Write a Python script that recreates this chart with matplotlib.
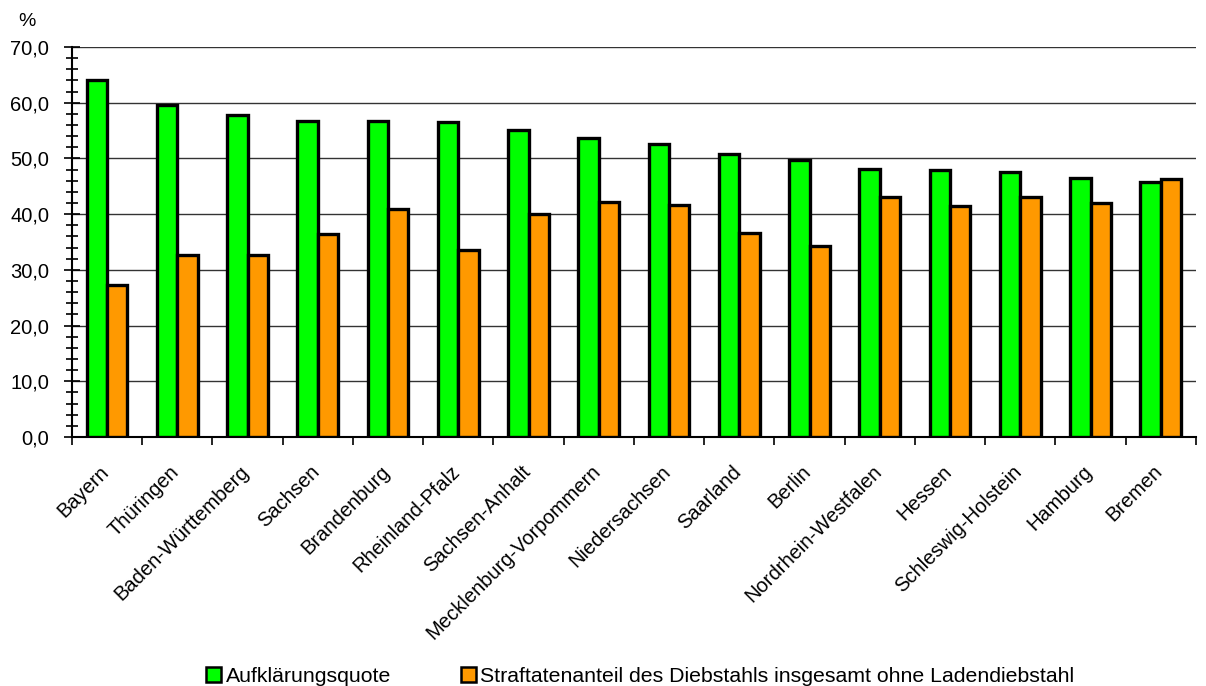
import numpy as np
import matplotlib.pyplot as plt
import matplotlib.transforms as mtransforms
from matplotlib.ticker import MultipleLocator, FuncFormatter
from matplotlib.patches import Patch

laender = ['Bayern', 'Thüringen', 'Baden-Württemberg', 'Sachsen', 'Brandenburg',
           'Rheinland-Pfalz', 'Sachsen-Anhalt', 'Mecklenburg-Vorpommern',
           'Niedersachsen', 'Saarland', 'Berlin', 'Nordrhein-Westfalen',
           'Hessen', 'Schleswig-Holstein', 'Hamburg', 'Bremen']
aufklaerung = [64.0, 59.5, 57.8, 56.8, 56.8, 56.5, 55.1, 53.7,
               52.6, 50.8, 49.7, 48.1, 47.9, 47.5, 46.4, 45.8]
diebstahl = [27.3, 32.6, 32.6, 36.4, 41.0, 33.5, 40.0, 42.2,
             41.6, 36.7, 34.3, 43.1, 41.5, 43.0, 42.0, 46.3]

plt.rcParams['font.family'] = ['Liberation Sans', 'DejaVu Sans']

fig = plt.figure(figsize=(12.06, 6.86), dpi=100)
ax = fig.add_axes([0.0597, 0.363, 0.932, 0.5685])

x = np.arange(len(laender))
w = 0.29
ax.bar(x - w/2, aufklaerung, w, color='#00ff00', edgecolor='black', linewidth=2.4, zorder=3)
ax.bar(x + w/2, diebstahl, w, color='#ff9900', edgecolor='black', linewidth=2.4, zorder=3)

ax.set_xlim(-0.5, len(laender) - 0.5)
ax.set_ylim(0, 70)
ax.yaxis.set_major_locator(MultipleLocator(10))
ax.yaxis.set_minor_locator(MultipleLocator(2))
ax.yaxis.set_major_formatter(FuncFormatter(lambda v, p: f'{v:.1f}'.replace('.', ',')))
ax.grid(axis='y', color='#333333', linewidth=1.0, zorder=0)

ax.tick_params(axis='y', which='major', direction='inout', length=11, width=1.2,
               labelsize=14.5, pad=11)
ax.tick_params(axis='y', which='minor', direction='inout', length=9, width=1.2)

# ticks between the categories, labels at the centres
ax.set_xticks(np.arange(-0.5, len(laender), 1.0))
ax.set_xticklabels([])
ax.set_xticks(x, minor=True)
ax.set_xticklabels(laender, minor=True, rotation=45, ha='right', va='top',
                   rotation_mode='anchor', fontsize=14.5)
ax.tick_params(axis='x', which='major', direction='out', length=6, width=1.2)
ax.tick_params(axis='x', which='minor', length=0, pad=18)
shift = mtransforms.ScaledTranslation(-8 / 100, 0, fig.dpi_scale_trans)
for lab in ax.get_xticklabels(minor=True):
    lab.set_transform(lab.get_transform() + shift)

for s in ['top', 'right']:
    ax.spines[s].set_visible(False)
ax.spines['left'].set_linewidth(1.5)
ax.spines['bottom'].set_linewidth(1.5)

fig.text(0.015, 0.962, '%', fontsize=14)

handles = [Patch(facecolor='#00ff00', edgecolor='black', linewidth=1.8),
           Patch(facecolor='#ff9900', edgecolor='black', linewidth=1.8)]
fig.legend(handles, ['Aufklärungsquote',
                     'Straftatenanteil des Diebstahls insgesamt ohne Ladendiebstahl'],
           loc='center', bbox_to_anchor=(0.531, 0.014), ncol=2, frameon=False,
           fontsize=15.3, handlelength=0.7, handleheight=0.7, handletextpad=0.2,
           columnspacing=3.3, borderpad=0)

fig.savefig('out.png', dpi=100)
